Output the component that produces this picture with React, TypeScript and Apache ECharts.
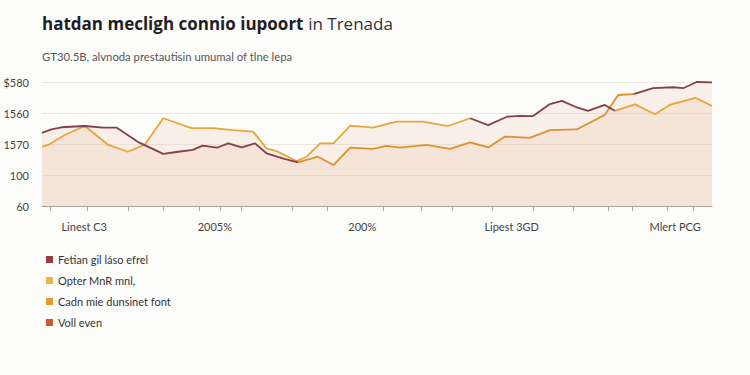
import React, { useEffect, useRef } from "react";
import * as echarts from "echarts";

const titleBold = "hatdan mecligh connio iupoort";
const titleRest = "in Trenada";
const subtitle = "GT30.5B, alvnoda prestautisin umumal of tlne lepa";

const seriesNames = ["Fetian gil láso efrel", "Opter MnR mnl,", "Cadn mie dunsinet font", "Voll even"];
const seriesColors = ["#9C3B40", "#EDB449", "#E69A2B", "#CC5A2C"];
const lineColors = ["#84404A", "#E8A53C", "#DE9130", "#CC5A2C"];

const yTickLabels = ["60", "100", "1570", "1560", "$580"];

const xLabelPositions = [6.3, 25.8, 47.8, 70.1, 94.5];
const xLabels = ["Linest C3", "2005%", "200%", "Lipest 3GD", "Mlert PCG"];
const xTickPositions = [1.2, 6.7, 12.8, 18.1, 23.4, 26.6, 29.7, 37.3, 42.5, 51.0, 56.6, 61.2, 67.2, 73.3, 79.3, 84.5, 88.1, 93.3, 97.2];

// Fetian gil láso efrel (maroon)
const maroonX = [0, 1.4, 2.9, 6.4, 9.1, 11.1, 14.3, 18.1, 20.3, 22.5, 24.0, 26.1, 27.8, 29.8, 31.8, 33.5, 36.3, 38.2, 50,
  63.9, 66.6, 69.4, 71.3, 73.3, 75.8, 77.6, 79.6, 81.5, 84.0, 85.5, 87,
  88.3, 91.2, 94.2, 95.7, 97.7, 100];
const maroonY = [2.36, 2.47, 2.54, 2.58, 2.53, 2.53, 2.07, 1.68, 1.75, 1.81, 1.95, 1.88, 2.02, 1.89, 2.02, 1.70, 1.51, 1.41, null,
  2.83, 2.61, 2.88, 2.91, 2.90, 3.29, 3.39, 3.20, 3.07, 3.26, 3.07, null,
  3.61, 3.80, 3.83, 3.80, 4.0, 3.99];

// Opter MnR mnl, (light orange)
const lightX = [0, 0.9, 3.4, 6.4, 9.9, 12.8, 15.3, 18.1, 22.3, 25.6, 28.5, 31.5, 33.5, 35.0, 38.0, 39.5, 41.5, 43.5, 46.0, 49.4, 52.9, 56.9, 60.6, 63.9, 75,
  85.5, 88.5, 91.5, 93.7, 97.5, 100];
const lightY = [1.91, 1.97, 2.29, 2.58, 1.97, 1.75, 1.97, 2.83, 2.51, 2.51, 2.45, 2.40, 1.86, 1.77, 1.45, 1.59, 2.02, 2.02, 2.59, 2.53, 2.72, 2.72, 2.58, 2.83, null,
  3.07, 3.28, 2.96, 3.26, 3.49, 3.23];

// Cadn mie dunsinet font (orange)
const orangeX = [38.2, 41.2, 43.5, 46.0, 49.4, 51.4, 53.4, 57.4, 60.9, 63.9, 66.6, 69.1, 72.8, 75.8, 79.8, 84.0, 86.0, 88.3];
const orangeY = [1.41, 1.59, 1.32, 1.88, 1.84, 1.94, 1.88, 1.97, 1.84, 2.05, 1.89, 2.24, 2.20, 2.45, 2.47, 2.94, 3.58, 3.61];

const pairs = (xs: number[], ys: (number | null)[]) => xs.map((x, i) => [x, ys[i]]);

export default function App() {
  const ref = useRef<HTMLDivElement>(null);
  useEffect(() => {
    if (!ref.current) return;
    const chart = echarts.init(ref.current, undefined, { renderer: "svg" });
    const area = { color: "rgba(236, 188, 156, 0.28)" };
    const lineSeries = (i: number, data: any[]) => ({
      name: seriesNames[i],
      type: "line",
      data,
      color: seriesColors[i],
      symbol: "none",
      connectNulls: false,
      lineStyle: { color: lineColors[i], width: 1.8 },
      areaStyle: area,
      z: 3,
    });
    chart.setOption({
      animation: false,
      backgroundColor: "#fcfcfb",
      textStyle: { fontFamily: "'Open Sans', 'Noto Sans', sans-serif" },
      title: [
        {
          text: `{b|${titleBold}} {n|${titleRest}}`,
          left: 37,
          top: 9,
          textStyle: {
            rich: {
              b: { fontSize: 17, fontWeight: "bold", color: "#1f1f1f", fontFamily: "'Open Sans', sans-serif" },
              n: { fontSize: 17, fontWeight: "normal", color: "#333", fontFamily: "'Open Sans', sans-serif" },
            },
          },
        },
        {
          text: subtitle,
          left: 37,
          top: 46,
          textStyle: { fontSize: 11.3, fontWeight: "normal", color: "#555", fontFamily: "Lato, sans-serif" },
        },
      ],
      legend: {
        orient: "vertical",
        left: 41,
        top: 249,
        icon: "rect",
        itemWidth: 7,
        itemHeight: 7,
        itemGap: 10,
        textStyle: { fontSize: 11, color: "#333", fontFamily: "Lato, sans-serif" },
        data: seriesNames,
      },
      grid: { left: 42, right: 38, top: 82, bottom: 169, containLabel: false },
      xAxis: {
        type: "value",
        min: 0,
        max: 100,
        axisLine: { show: true, lineStyle: { color: "#a8a4a0", width: 1 } },
        axisTick: { show: true, customValues: xTickPositions, length: 5, lineStyle: { color: "#a8a4a0" } },
        axisLabel: {
          customValues: xLabelPositions,
          margin: 15,
          fontSize: 11,
          color: "#444",
          fontFamily: "Lato, sans-serif",
          formatter: (v: number) => {
            const idx = xLabelPositions.findIndex((p) => Math.abs(p - v) < 0.01);
            return idx >= 0 ? xLabels[idx] : "";
          },
        },
        splitLine: { show: false },
      },
      yAxis: {
        type: "value",
        min: 0,
        max: 4,
        interval: 1,
        axisLine: { show: false },
        axisTick: { show: false },
        axisLabel: {
          fontSize: 11,
          color: "#444",
          margin: 13,
          fontFamily: "Lato, sans-serif",
          formatter: (v: number) => yTickLabels[Math.round(v)] ?? "",
        },
        splitLine: { lineStyle: { color: "#ebe7e3", width: 1 } },
      },
      series: [
        lineSeries(1, pairs(lightX, lightY)),
        lineSeries(2, pairs(orangeX, orangeY)),
        lineSeries(0, pairs(maroonX, maroonY)),
        { ...lineSeries(3, []), areaStyle: undefined },
      ],
    });
    return () => chart.dispose();
  }, []);
  return (
    <div
      ref={ref}
      style={{ position: "fixed", left: 0, top: 0, width: 750, height: 375 }}
    />
  );
}
